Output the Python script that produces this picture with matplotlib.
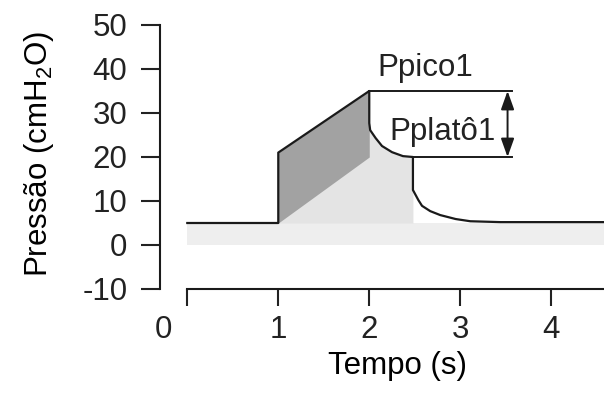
import matplotlib.pyplot as plt

plt.rcParams.update({"font.family": ["Liberation Sans", "DejaVu Sans"], "font.size": 22.5,
                     "mathtext.fontset": "custom", "mathtext.rm": "Liberation Sans",
                     "mathtext.it": "Liberation Sans:italic", "axes.unicode_minus": False,
                     "text.color": "#222222", "xtick.color": "#222222",
                     "ytick.color": "#222222", "axes.edgecolor": "#1a1a1a"})

# curva de pressão (tempo em s, pressão em cmH2O)
tempo = [0, 1.0, 1.0, 2.0, 2.0, 2.01, 2.07, 2.14, 2.25, 2.37, 2.48,
         2.48, 2.54, 2.58, 2.67, 2.78, 2.95, 3.11, 3.44, 4.58]
pressao = [5, 5, 21, 35, 27.7, 26.1, 24.3, 22.5, 21.1, 20.2, 20.0,
           12.5, 10.2, 8.9, 7.7, 6.8, 5.9, 5.4, 5.2, 5.2]

peep = 5
p_pico = 35
p_plato = 20
t_ref = 3.57      # fim das linhas de referência
t_seta = 3.52     # posição da seta dupla
t_fim = 4.58

# rampa resistiva (parte escura)
t_rampa = [1.0, 2.0]
base_rampa = [5, 20]
topo_rampa = [21, 35]

fig = plt.figure(figsize=(6.04, 3.96), dpi=100)
ax = fig.add_axes([160 / 604, 1 - 289 / 396, 444 / 604, 264 / 396])

ax.fill_between([0, t_fim], 0, peep, color="#eeeeee", lw=0)
ax.fill_between(tempo[2:11], peep, pressao[2:11], color="#e4e4e4", lw=0)
ax.fill_between(t_rampa, base_rampa, topo_rampa, color="#a2a2a2", lw=0)
ax.plot(tempo, pressao, color="#1a1a1a", lw=1.6)

ax.plot([2.0, t_ref], [p_pico, p_pico], color="#1a1a1a", lw=1.4)
ax.plot([tempo[10], t_ref], [p_plato, p_plato], color="#1a1a1a", lw=1.4)
ax.annotate("", xy=(t_seta, p_plato), xytext=(t_seta, p_pico),
            arrowprops=dict(arrowstyle="<|-|>,head_length=0.7,head_width=0.25",
                            color="#1a1a1a", lw=1.4,
                            mutation_scale=16, shrinkA=0, shrinkB=0))
ax.text(2.62, 40.2, "Ppico1", ha="center", va="center")
ax.text(2.80, 25.7, "Pplatô1", ha="center", va="center")

ax.set_xlim(-0.3, t_fim)
ax.set_ylim(-10, 50)
for s in ("top", "right"):
    ax.spines[s].set_visible(False)
ax.spines["bottom"].set_bounds(0, t_fim)
ax.spines["left"].set_linewidth(1.5)
ax.spines["bottom"].set_linewidth(1.5)

ax.set_yticks(range(-10, 51, 10))
ax.set_xticks(range(0, 5), labels=["", "1", "2", "3", "4"])
ax.set_xticks([-0.26], labels=["0"], minor=True)
ax.tick_params(axis="y", length=13.5, width=1.5, pad=10)
ax.tick_params(axis="x", which="major", length=12, width=1.5, pad=7)
ax.tick_params(axis="x", which="minor", length=0, pad=19)

ax.set_xlabel("Tempo (s)")
ax.xaxis.set_label_coords(0.534, -0.235)
ax.set_ylabel("Pressão (cmH$_2$O)", fontsize=22.5)
ax.yaxis.set_label_coords(-0.235, 0.51)

fig.savefig("out.png", dpi=100)
